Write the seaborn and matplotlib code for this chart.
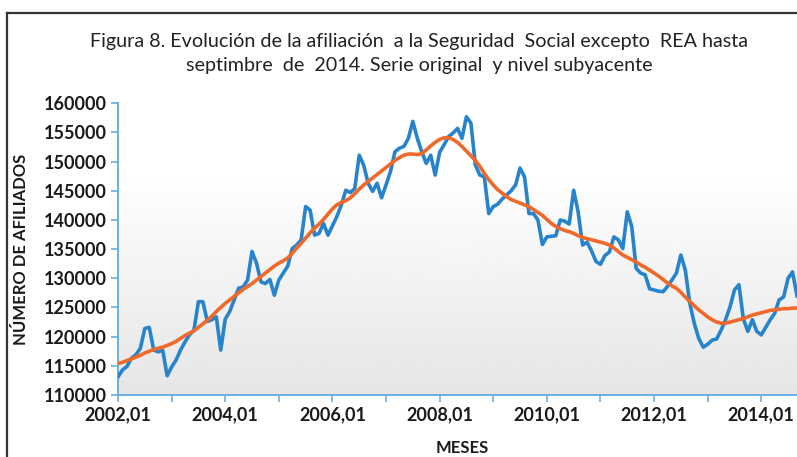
import numpy as np
import pandas as pd
import matplotlib
matplotlib.use("Agg")
import matplotlib.pyplot as plt
import seaborn as sns
from matplotlib.lines import Line2D

# Monthly series, 2002.01 - 2014.09
start_year = 2002
n_months = 153

serie_original = [
    113100, 114300, 114900, 116300, 116900, 118000, 121400, 121600, 117700, 117400, 117700, 113300,
    114800, 116000, 117700, 119100, 120300, 121100, 126000, 126000, 122600, 122900, 123400, 117700,
    123000, 124300, 126300, 128300, 128500, 129700, 134600, 132600, 129400, 129100, 129800, 127100,
    129700, 130900, 132100, 135100, 135700, 136600, 142300, 141700, 137400, 137700, 139400, 137400,
    139000, 140600, 142600, 145100, 144700, 145400, 151100, 149400, 146300, 144900, 146300, 143800,
    146000, 148300, 151700, 152300, 152600, 154000, 156900, 154000, 151700, 149700, 151100, 147700,
    151600, 152900, 154300, 154900, 155700, 154000, 157700, 156600, 149400, 147700, 147400, 141100,
    142300, 142700, 143600, 144300, 145000, 146000, 148900, 147400, 141100, 141100, 140000, 135800,
    137100, 137200, 137300, 140000, 139800, 139300, 145100, 141400, 135700, 136200, 134700, 132900,
    132400, 133900, 134500, 137100, 136600, 135100, 141400, 138900, 131700, 130900, 130600, 128200,
    128000, 127800, 127700, 128600, 129700, 130900, 134000, 131400, 125700, 122300, 119700, 118200,
    118700, 119400, 119600, 121100, 122900, 125100, 128000, 128900, 123000, 120900, 122900, 120900,
    120300, 121600, 122900, 124000, 126300, 126800, 130000, 131100, 127000,
]

nivel_subyacente = [
    115400, 115600, 115900, 116200, 116500, 116800, 117200, 117500, 117800, 118000, 118200, 118500,
    118800, 119200, 119700, 120200, 120600, 121000, 121600, 122200, 122800, 123500, 124300, 125000,
    125700, 126300, 126900, 127500, 128100, 128600, 129100, 129700, 130300, 130900, 131500, 132100,
    132600, 133000, 133500, 134300, 135200, 136000, 136900, 137800, 138600, 139300, 140100, 141000,
    141900, 142600, 143000, 143300, 143800, 144500, 145300, 146000, 146600, 147200, 147800, 148400,
    149000, 149600, 150200, 150700, 151100, 151300, 151300, 151200, 151400, 152000, 152700, 153300,
    153800, 154100, 154100, 153800, 153300, 152600, 151800, 151000, 150200, 149200, 148000, 146900,
    146000, 145200, 144600, 144000, 143500, 143200, 142900, 142600, 142300, 141800, 141300, 140800,
    140100, 139400, 138900, 138500, 138200, 138000, 137700, 137300, 137000, 136800, 136600, 136400,
    136200, 136000, 135700, 135200, 134600, 134000, 133600, 133200, 132800, 132300, 131900, 131400,
    130900, 130400, 129800, 129200, 128700, 128300, 127600, 126800, 126000, 125300, 124600, 124000,
    123400, 122900, 122500, 122300, 122300, 122500, 122700, 122900, 123100, 123400, 123700, 123900,
    124100, 124300, 124500, 124600, 124700, 124800, 124800, 124900, 124900,
]

df = pd.DataFrame({
    "mes": np.arange(n_months),
    "original": serie_original,
    "subyacente": nivel_subyacente,
})

tick_pos = list(range(0, n_months, 12))
tick_labels = [f"{start_year + p // 12},01" if (p // 12) % 2 == 0 else "" for p in tick_pos]

plt.rcParams["font.family"] = ["Lato", "DejaVu Sans"]

blue = "#2784CC"
orange = "#F0682A"
axis_blue = "#6AAEE0"

fig = plt.figure(figsize=(7.97, 4.57), dpi=100)
ax = fig.add_axes([118 / 797, (457 - 395) / 457, (797 - 118) / 797, (395 - 103.3) / 457])

# gradient background of the plot area (white on top, light grey at the bottom)
grad = np.concatenate([np.ones(22), np.linspace(1.0, 0.9, 78)])[:, None]
ax.imshow(grad, cmap="gray", vmin=0, vmax=1, aspect="auto", origin="upper",
          extent=(0, 1, 0, 1), transform=ax.transAxes, zorder=0)

sns.lineplot(data=df, x="mes", y="original", ax=ax, color=blue, lw=2.6, zorder=3)
sns.lineplot(data=df, x="mes", y="subyacente", ax=ax, color=orange, lw=2.6, zorder=4)

ax.set_xlim(0, n_months - 1)
ax.set_ylim(110000, 160000)
ax.set_yticks(np.arange(110000, 160001, 5000))
ax.set_xticks(tick_pos)
ax.set_xticklabels(tick_labels)

for side in ["top", "right"]:
    ax.spines[side].set_visible(False)
for side in ["left", "bottom"]:
    ax.spines[side].set_color(axis_blue)
    ax.spines[side].set_linewidth(1.4)

ax.tick_params(axis="both", direction="out", length=5, width=1.2, color=axis_blue,
               labelsize=13, labelcolor="#1a1a1a", pad=3)
for lab in ax.get_xticklabels() + ax.get_yticklabels():
    lab.set_fontweight("bold")

ax.set_xlabel("MESES", fontsize=12, fontweight="bold", color="#1a1a1a")
ax.set_ylabel("NÚMERO DE AFILIADOS", fontsize=12, fontweight="bold", color="#1a1a1a")
ax.xaxis.set_label_coords((462 - 118) / 679, -(440 - 395) / 291.7)
ax.yaxis.set_label_coords(-(118 - 29) / 679, 0.5)

fig.text(419 / 797, 1 - 42 / 457,
         "Figura 8. Evolución de la afiliación  a la Seguridad  Social excepto  REA hasta",
         ha="center", va="center", fontsize=14.2, color="#222222")
fig.text(419 / 797, 1 - 66 / 457,
         "septimbre  de  2014. Serie original  y nivel subyacente",
         ha="center", va="center", fontsize=14.2, color="#222222")

# outer frame of the original figure (cropped on right/bottom)
fig.add_artist(Line2D([7 / 797, 7 / 797], [0, 1 - 12.5 / 457], transform=fig.transFigure,
                      color="#333333", lw=1.6))
fig.add_artist(Line2D([7 / 797, 1], [1 - 12.5 / 457, 1 - 12.5 / 457], transform=fig.transFigure,
                      color="#333333", lw=1.6))

fig.savefig("out.png", dpi=100)
